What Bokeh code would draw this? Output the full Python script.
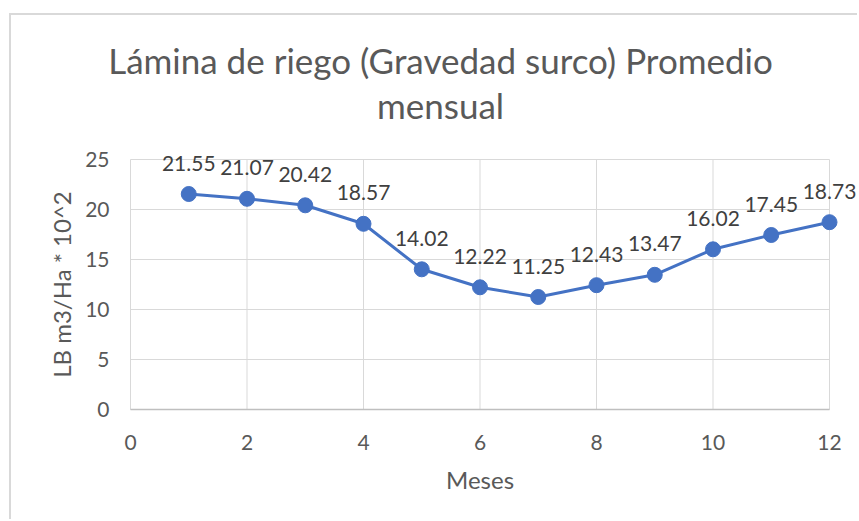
import math
from bokeh.plotting import figure
from bokeh.models import ColumnDataSource, LabelSet, Label, Range1d
from bokeh.core.properties import value
from bokeh.embed import file_html
from bokeh.resources import INLINE

# ---- data ----
meses = [1, 2, 3, 4, 5, 6, 7, 8, 9, 10, 11, 12]
lamina = [21.55, 21.07, 20.42, 18.57, 14.02, 12.22, 11.25, 12.43, 13.47, 16.02, 17.45, 18.73]
etiquetas = ["21.55", "21.07", "20.42", "18.57", "14.02", "12.22", "11.25", "12.43", "13.47", "16.02", "17.45", "18.73"]
x_ticks = [0, 2, 4, 6, 8, 10, 12]
x_tick_labels = ["0", "2", "4", "6", "8", "10", "12"]
y_ticks = [0, 5, 10, 15, 20, 25]
y_tick_labels = ["0", "5", "10", "15", "20", "25"]
titulo = ["Lámina de riego (Gravedad surco) Promedio", "mensual"]
x_label = "Meses"
y_label = "LB m3/Ha * 10^2"

FONT = "Lato"
TXT = "#595959"
BLUE = "#4472C4"
GRID = "#d9d9d9"
AXIS = "#bfbfbf"

# ---- layout (page pixels) ----
OX, OY = 11, 15            # canvas origin on page (after css margin + border)
W, H = 859 - OX, 521 - OY
X0_PX, X12_PX = 130, 829   # x = 0 and x = 12
Y0_PX, Y25_PX = 409, 159   # y = 0 and y = 25
px_x = (X12_PX - X0_PX) / 12.0
px_y = (Y0_PX - Y25_PX) / 25.0
def dx(px): return (px - X0_PX) / px_x
def dy(py): return (Y0_PX - py) / px_y

src = ColumnDataSource(dict(x=meses, y=lamina, t=etiquetas))

p = figure(width=W, height=H, output_backend="svg", toolbar_location=None,
           x_range=Range1d(dx(OX), dx(859)), y_range=Range1d(dy(521), dy(OY)),
           x_axis_location=None, y_axis_location=None,
           min_border=0)
p.styles = {"margin-left": "9px", "margin-top": "13px",
            "border-top": "2px solid #d9d9d9", "border-left": "2px solid #d9d9d9"}
p.outline_line_color = None
p.xgrid.visible = False
p.ygrid.visible = False

xmin, xmax = min(x_ticks), max(x_ticks)
ymin, ymax = min(y_ticks), max(y_ticks)

# grid lines bounded to the data area
p.segment(x0=x_ticks, y0=[ymin] * len(x_ticks), x1=x_ticks, y1=[ymax] * len(x_ticks),
          line_color=GRID, line_width=1)
p.segment(x0=[xmin] * len(y_ticks), y0=y_ticks, x1=[xmax] * len(y_ticks), y1=y_ticks,
          line_color=GRID, line_width=1)
# x axis line
p.segment(x0=[xmin], y0=[ymin], x1=[xmax], y1=[ymin], line_color=AXIS, line_width=1.5)

# tick labels
p.text(x=[xmin] * len(y_ticks), y=y_ticks, text=y_tick_labels, x_offset=-21,
       text_align="right", text_baseline="middle", text_font=value(FONT),
       text_font_size="21px", text_color=TXT)
p.text(x=x_ticks, y=[ymin] * len(x_ticks), text=x_tick_labels, y_offset=33,
       text_align="center", text_baseline="middle", text_font=value(FONT),
       text_font_size="21px", text_color=TXT)

# series
p.line("x", "y", source=src, line_color=BLUE, line_width=3)
p.scatter("x", "y", source=src, size=15, fill_color=BLUE, line_color=BLUE)
p.add_layout(LabelSet(x="x", y="y", text="t", source=src, y_offset=31, text_align="center",
                      text_baseline="middle", text_font=value(FONT), text_font_size="21px",
                      text_color="#404040"))

# axis titles
p.add_layout(Label(x=(xmin + xmax) / 2, y=dy(479), text=x_label, text_align="center",
                   text_baseline="middle", text_font=FONT, text_font_size="24px", text_color=TXT))
p.add_layout(Label(x=dx(61), y=(ymin + ymax) / 2, text=y_label, angle=math.pi / 2, text_align="center",
                   text_baseline="middle", text_font=FONT, text_font_size="24px", text_color=TXT))

# title
p.add_layout(Label(x=dx(440), y=dy(59), text=titulo[0], text_align="center", text_baseline="middle",
                   text_font=FONT, text_font_size="35px", text_color=TXT))
p.add_layout(Label(x=dx(440), y=dy(104), text=titulo[1], text_align="center", text_baseline="middle",
                   text_font=FONT, text_font_size="35px", text_color=TXT))

open("out.html", "w").write(file_html(p, INLINE))
